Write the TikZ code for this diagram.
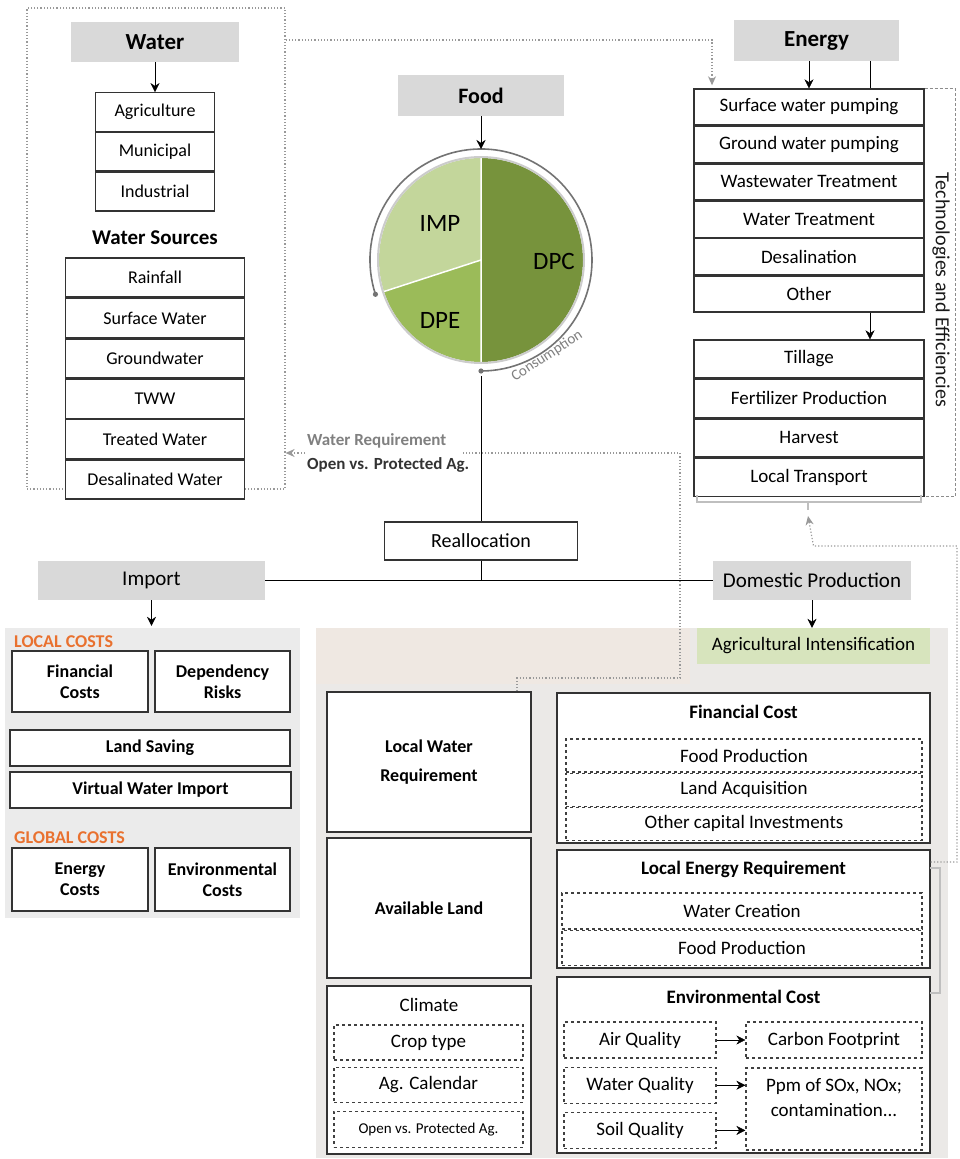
\documentclass[tikz,border=0pt]{standalone}
\usepackage{fontspec}
\setmainfont{Carlito}
\usepackage{tikz}
\usetikzlibrary{positioning,arrows.meta,calc}

\definecolor{hdrgray}{HTML}{D9D9D9}
\definecolor{impgreen}{HTML}{C3D69B}
\definecolor{dpegreen}{HTML}{9BBB59}
\definecolor{dpcgreen}{HTML}{77933C}
\definecolor{costorange}{HTML}{E9712F}
\definecolor{panelgray}{HTML}{EBEBEB}
\definecolor{panelbeige}{HTML}{EBE9E7}
\definecolor{stripbeige}{HTML}{EFE8E2}
\definecolor{agrigreen}{HTML}{D7E4BD}
\definecolor{linkgray}{HTML}{999999}

\begin{document}
\begin{tikzpicture}[x=1pt,y=1pt,
			node distance=0pt,
			hdr/.style={fill=hdrgray,inner sep=0pt,font=\fontsize{21}{24}\selectfont},
			bhdr/.style={hdr,font=\fontsize{23}{26}\bfseries\selectfont},
			cell/.style={draw=black!80,line width=1.4pt,fill=white,inner sep=0pt,font=\fontsize{18}{21}\selectfont},
			ecell/.style={cell,minimum width=230,font=\fontsize{19}{22}\selectfont},
			dcell/.style={draw=black!75,dashed,line width=1.2pt,fill=white,inner sep=0pt,font=\fontsize{19}{22}\selectfont},
			bcell/.style={cell,align=center,font=\fontsize{18}{21}\bfseries\selectfont},
			title/.style={inner sep=0pt,font=\fontsize{19}{22}\bfseries\selectfont},
			costlbl/.style={text=costorange,anchor=west,inner sep=0pt,font=\fontsize{18}{20}\bfseries\selectfont},
			slicelbl/.style={inner sep=0pt,font=\fontsize{25}{28}\selectfont},
			link/.style={draw=linkgray,dotted,line width=1.2pt},
			linkarrow/.style={link,-{Stealth[length=9pt,width=8pt]}},
			bracket/.style={draw=black!25,line width=1.2pt},
			>={Stealth[length=9pt,width=9pt]}
			]
			
			\useasboundingbox (0,0) rectangle (959,-1159);
			
			\node[fill=panelgray,minimum width=295,minimum height=290,inner sep=0pt] (imppanel) at (152.5,-773) {};
			
			\node[fill=panelbeige,minimum width=632,minimum height=530,inner sep=0pt] (dompanel) at (632,-893) {};
			
			\fill[stripbeige] (dompanel.north west) rectangle (690,-684);
			
			\node[link,draw,minimum width=258,minimum height=481,inner sep=0pt] (wsys) at (156,-248.5) {};
			
			\node[bhdr,minimum width=168,minimum height=40] (water) at (155,-42) {Water};
			
			\node[cell,minimum width=119,minimum height=38.5] (agr) at (155,-112) {Agriculture};
			\node[cell,minimum width=119,minimum height=38.5,below=of agr] (mun) {Municipal};
			\node[cell,minimum width=119,minimum height=38.5,below=of mun] (ind) {Industrial};
			
			\node[inner sep=0pt,font=\fontsize{21}{24}\bfseries\selectfont] (wsrc) at (155,-238) {Water Sources};
			
			\node[cell,minimum width=179,minimum height=39] (rain) at (155,-277.5) {Rainfall};
			\node[cell,minimum width=179,minimum height=39,below=of rain] (surf) {Surface Water};
			\node[cell,minimum width=179,minimum height=39,below=of surf] (ground) {Groundwater};
			\node[cell,minimum width=179,minimum height=39,below=of ground] (tww) {TWW};
			\node[cell,minimum width=179,minimum height=39,below=of tww] (treat) {Treated Water};
			\node[cell,minimum width=179,minimum height=39,below=of treat] (desw) {Desalinated Water};
			
			\draw[->] (water) -- (agr);
			
			\node[bhdr,minimum width=166,minimum height=41,font=\fontsize{22}{25}\bfseries\selectfont] (food) at (481,-95.5) {Food};
			
			\coordinate (pc) at (481,-260);
			\coordinate (ringtop) at ($(pc)+(90:111)$);
			\coordinate (ringbot) at ($(pc)+(-90:111)$);
			\coordinate (ringend) at ($(pc)+(198:111)$);
			
			\fill[dpcgreen] (pc) -- +(90:102) arc[start angle=90,end angle=-90,radius=102] -- cycle;
			\fill[impgreen] (pc) -- +(90:102) arc[start angle=90,end angle=198,radius=102] -- cycle;
			\fill[dpegreen] (pc) -- +(198:102) arc[start angle=198,end angle=270,radius=102] -- cycle;
			\draw[white,line width=1.5pt] (pc) -- +(90:102) (pc) -- +(270:102) (pc) -- +(198:102);
			\draw[black!20,line width=2pt] (pc) circle (103);
			\draw[black!55,line width=1.6pt] (ringend) arc[start angle=198,end angle=-90,radius=111];
			\fill[black!55] (ringend) circle (2.6);
			\fill[black!55] (ringbot) circle (2.6);
			
			\node[slicelbl] (imp) at (440,-223) {IMP};
			\node[slicelbl] (dpc) at (554,-261) {DPC};
			\node[slicelbl] (dpe) at (440,-320) {DPE};
			
			\node[rotate=33,inner sep=0pt,text=black!50,font=\fontsize{15}{17}\selectfont] (cons) at (547,-356) {Consumption};
			
			\draw[->] (food) -- (ringtop);
			
			\node[bhdr,minimum width=165,minimum height=41] (energy) at (816.5,-40.5) {Energy};
			
			\node[ecell,minimum height=36] (swp) at (809,-107) {Surface water pumping};
			\node[ecell,minimum height=36,below=of swp] (gwp) {Ground water pumping};
			\node[ecell,minimum height=36,below=of gwp] (wwt) {Wastewater Treatment};
			\node[ecell,minimum height=36,below=of wwt] (wtr) {Water Treatment};
			\node[ecell,minimum height=36,below=of wtr] (desal) {Desalination};
			\node[ecell,minimum height=36,below=of desal] (oth) {Other};
			
			\node[ecell,minimum height=38] (till) at (809,-359) {Tillage};
			\node[ecell,minimum height=38,below=of till] (fert) {Fertilizer Production};
			\node[ecell,minimum height=38,below=of fert] (harv) {Harvest};
			\node[ecell,minimum height=38,below=of harv] (ltr) {Local Transport};
			
			\coordinate (ejoin) at (870,0);
			\coordinate (tech) at (955,0);
			
			\draw[->] (energy.south -| swp.north) -- (swp.north);
			\draw (energy.south -| ejoin) -- (swp.north -| ejoin);
			\draw[->] (oth.south -| ejoin) -- (till.north -| ejoin);
			
			\draw[densely dashed,draw=black!45,line width=1pt] (swp.north east) -- (swp.north east -| tech) -- (ltr.south east -| tech) -- (ltr.south east);
			
			\node[rotate=-90,inner sep=0pt,text=black!90,font=\fontsize{20}{22}\selectfont] (techlbl) at (941,-290) {Technologies and Efficiencies};
			
			\draw[bracket] (697,-495) -- (697,-502) -- (921,-502) -- (921,-495) (808,-502) -- (808,-510);
			
			\coordinate (wlink) at (712,-40);
			\draw[linkarrow] (wsys.east |- wlink) -- (wlink) -- ([yshift=3]wlink |- swp.north);
			
			\node[inner sep=0pt,anchor=west,text=black!50,font=\fontsize{17}{20}\bfseries\selectfont] (wreq) at (307,-441) {Water Requirement};
			\node[inner sep=0pt,anchor=west,text=black!80,font=\fontsize{17}{20}\bfseries\selectfont] (wopen) at (307,-465) {Open vs. Protected Ag.};
			
			\node[cell,minimum width=193,minimum height=38,font=\fontsize{20}{23}\selectfont] (realloc) at (481,-541) {Reallocation};
			
			\node[hdr,minimum width=227,minimum height=39] (import) at (151.5,-580.5) {Import};
			\node[hdr,minimum width=198,minimum height=39] (dom) at (812,-580.5) {Domestic Production};
			
			\draw ([yshift=-5]ringbot) -- (realloc);
			\draw (realloc.south) -- (realloc.south |- import.east);
			\draw (import.east) -- (dom.west);
			\draw[->] (import.south) -- ([yshift=2]import.south |- imppanel.north);
			
			\node[fill=agrigreen,inner sep=0pt,minimum width=233,minimum height=36,font=\fontsize{19}{22}\selectfont] (agri) at (813.5,-646) {Agricultural Intensification};
			
			\draw[->] (dom.south) -- (dom.south |- agri.north);
			
			\node[costlbl] (lc) at (14,-642) {LOCAL COSTS};
			\node[bcell,minimum width=136,minimum height=61] (fincost) at (80,-681.5) {Financial\\Costs};
			\node[bcell,minimum width=135,minimum height=61] (deprisk) at (222.5,-681.5) {Dependency\\Risks};
			\node[bcell,minimum width=280,minimum height=36] (landsav) at (150,-748) {Land Saving};
			\node[bcell,minimum width=281,minimum height=36] (vwi) at (150.5,-790) {Virtual Water Import};
			\node[costlbl] (gc) at (14,-838) {GLOBAL COSTS};
			\node[bcell,minimum width=136,minimum height=63] (encost) at (80,-879.5) {Energy\\Costs};
			\node[bcell,minimum width=135,minimum height=63] (envcost) at (222.5,-879.5) {Environmental\\Costs};
			
			\node[bcell,minimum width=204,minimum height=140,font=\fontsize{18}{29}\bfseries\selectfont] (lwr) at (429,-762) {Local Water\\Requirement};
			\node[bcell,minimum width=204,minimum height=140] (land) at (429,-908) {Available Land};
			
			\node[cell,minimum width=204,minimum height=168] (clim) at (429,-1070) {};
			\node[inner sep=0pt,font=\fontsize{19}{22}\selectfont] (climlbl) at (429,-1005) {Climate};
			\node[dcell,minimum width=189,minimum height=35] (crop) at (428.5,-1042.5) {Crop type};
			\node[dcell,minimum width=189,minimum height=35,below=6pt of crop] (agcal) {Ag. Calendar};
			\node[dcell,minimum width=189,minimum height=36,below=8pt of agcal,font=\fontsize{15}{18}\selectfont] (openag) {Open vs. Protected Ag.};
			
			\node[cell,minimum width=373,minimum height=150] (fin) at (743.5,-768) {};
			\node[title] (fintitle) at (743.5,-712) {Financial Cost};
			\node[dcell,minimum width=356,minimum height=33] (finfood) at (744,-755.5) {Food Production};
			\node[dcell,minimum width=356,minimum height=33,below=of finfood] (finland) {Land Acquisition};
			\node[dcell,minimum width=356,minimum height=33,below=of finland] (fininv) {Other capital Investments};
			
			\node[cell,minimum width=373,minimum height=118] (ener) at (743.5,-909) {};
			\node[title] (enertitle) at (743.5,-869) {Local Energy Requirement};
			\node[dcell,minimum width=360,minimum height=36] (wcreate) at (742,-911) {Water Creation};
			\node[dcell,minimum width=360,minimum height=35,below=of wcreate] (enfood) {Food Production};
			
			\node[cell,minimum width=373,minimum height=176] (env) at (743.5,-1065) {};
			\node[title] (envtitle) at (743.5,-997) {Environmental Cost};
			\node[dcell,minimum width=152,minimum height=36] (air) at (640,-1040) {Air Quality};
			\node[dcell,minimum width=152,minimum height=36,below=8pt of air] (wq) {Water Quality};
			\node[dcell,minimum width=152,minimum height=36,below=8pt of wq] (soil) {Soil Quality};
			\node[dcell,minimum width=176,minimum height=36] (carbon) at (834,-1040) {Carbon Footprint};
			\node[dcell,minimum width=176,minimum height=82] (ppm) at (834,-1109) {};
			\node[inner sep=0pt,align=center,font=\fontsize{19}{25}\selectfont] (ppmtxt) at (834,-1097.5) {Ppm of SOx, NOx;\\contamination...};
			
			\draw[->] (air) -- (carbon);
			\draw[->] (wq) -- (wq -| ppm.west);
			\draw[->] (soil) -- (soil -| ppm.west);
			
			\coordinate (wline) at (680,-453);
			\coordinate (wdrop) at (517,-678);
			\draw[link] (wdrop |- lwr.north) -- (wdrop) -- (wdrop -| wline) -- (wline) -- ([xshift=14]wreq.east |- wline);
			\draw[linkarrow] ([xshift=-2]wreq.west |- wline) -- (wline -| wsys.east);
			
			\coordinate (fbR) at (957,-862);
			\coordinate (fbT) at (957,-546);
			\draw[linkarrow] (ener.east |- fbR) -- (fbR) -- (fbT) -- (fbT -| agri) -- (808,-516);
			
			\draw[bracket] (930,-868) -- (940,-868) -- (940,-993) -- (930,-993);
			
		\end{tikzpicture}
\end{document}
